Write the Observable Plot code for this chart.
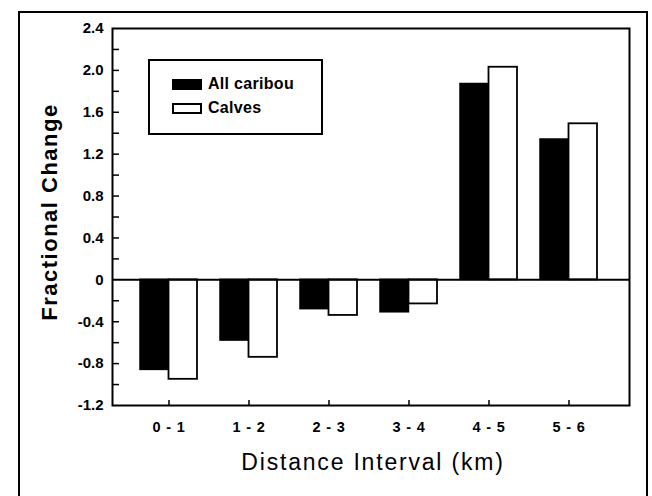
<!DOCTYPE html>
<html>
<head>
<meta charset="utf-8">
<script src="https://cdn.jsdelivr.net/npm/d3@7"></script>
<script src="https://cdn.jsdelivr.net/npm/@observablehq/plot@0.6"></script>
<style>
  html, body { margin: 0; padding: 0; background: #fff; overflow: hidden; }
  #wrap { position: relative; width: 652px; height: 496px; }
  #wrap svg { position: absolute; left: 0; top: 0; display: block; }
  #border { position: absolute; left: 18px; top: 11px; width: 630px; height: 520px;
            border: 2px solid #000; border-bottom: none; box-sizing: border-box; pointer-events: none; }
  #legend { position: absolute; left: 148px; top: 59px; width: 175px; height: 76px;
            border: 2px solid #000; box-sizing: border-box; background: #fff;
            font-family: "Liberation Sans", Arial, Helvetica, sans-serif; font-weight: bold; font-size: 16px; }
  .item { position: absolute; left: 22px; display: flex; align-items: center; height: 16px; }
  .sw { width: 30px; height: 11px; box-sizing: border-box; border: 2px solid #000; margin-right: 6px; }
  .lbl { letter-spacing: 0.3px; }
</style>
</head>
<body>
<div id="wrap"></div>
<script>
// ---- data ----
const categories = ["0 - 1", "1 - 2", "2 - 3", "3 - 4", "4 - 5", "5 - 6"];
const allCaribou = [-0.86, -0.58, -0.28, -0.31, 1.87, 1.34];
const calves     = [-0.95, -0.74, -0.34, -0.23, 2.03, 1.49];
const seriesNames = ["All caribou", "Calves"];
const seriesFills = ["#000", "#fff"];
const yTickValues = [2.4, 2.0, 1.6, 1.2, 0.8, 0.4, 0, -0.4, -0.8, -1.2];
const yTickLabels = ["2.4", "2.0", "1.6", "1.2", "0.8", "0.4", "0", "-0.4", "-0.8", "-1.2"];
const yTickMarks = [2.2, 2.0, 1.8, 1.6, 1.4, 1.2, 1.0, 0.8, 0.6, 0.4, 0.2, -0.2, -0.4, -0.6, -0.8, -1.0];
const xTitle = "Distance Interval (km)";
const yTitle = "Fractional Change";

// ---- layout ----
const W = 652, H = 496, mL = 112, mR = 23, mT = 28, mB = 91;
const plotW = W - mL - mR, plotH = H - mT - mB;
const font = "'Liberation Sans', Arial, Helvetica, sans-serif";

const rowsA = categories.map((c, i) => ({cat: c, v: allCaribou[i]}));
const rowsC = categories.map((c, i) => ({cat: c, v: calves[i]}));

const xScale = {type: "band", domain: categories, paddingInner: 0.2875, paddingOuter: 0.375, align: 0.47};
const bandW = plotW / (categories.length - 0.2875 + 2 * 0.375) * (1 - 0.2875);

const plot = Plot.plot({
  width: W, height: H,
  marginLeft: mL, marginRight: mR, marginTop: mT, marginBottom: mB,
  style: {background: "transparent", fontFamily: font, color: "#000", overflow: "visible"},
  x: xScale,
  y: {domain: [-1.2, 2.4]},
  marks: [
    Plot.barY(rowsA, {x: "cat", y: "v", fill: seriesFills[0], stroke: "#000", strokeWidth: 1.5, insetRight: bandW / 2}),
    Plot.barY(rowsC, {x: "cat", y: "v", fill: seriesFills[1], stroke: "#000", strokeWidth: 1.8, insetLeft: bandW / 2}),
    Plot.ruleY([0], {stroke: "#000", strokeWidth: 2}),
    Plot.tickY(yTickMarks, {y: d => d, stroke: "#000", strokeWidth: 1.5, insetRight: plotW - 7}),
    Plot.tickX(categories, {x: d => d, stroke: "#000", strokeWidth: 1.5, insetTop: plotH - 5}),
    Plot.frame({stroke: "#000", strokeWidth: 2}),
    Plot.axisY(yTickValues, {
      tickSize: 0, tickPadding: 9, label: null,
      tickFormat: d => yTickLabels[yTickValues.indexOf(d)],
      fontSize: 15, fontWeight: "bold"
    }),
    Plot.axisX({tickSize: 0, tickPadding: 16, label: null, fontSize: 14.5, fontWeight: "bold"}),
    Plot.text([yTitle], {text: d => d, frameAnchor: "left", textAnchor: "middle", lineAnchor: "middle",
                         rotate: -90, dx: -63, dy: -5, fontSize: 22, fontWeight: "bold"}),
    Plot.text([xTitle], {text: d => d, frameAnchor: "bottom", textAnchor: "middle", lineAnchor: "middle",
                         dx: 2, dy: 57, fontSize: 23})
  ]
});

document.getElementById("wrap").appendChild(plot);

// letter spacing for the (wide) scanned titles and tick labels
d3.select(plot).selectAll("text").each(function () {
  const t = this.textContent;
  if (t === yTitle) d3.select(this).style("letter-spacing", "1.5px");
  else if (t === xTitle) d3.select(this).style("letter-spacing", "1.8px");
  else if (categories.includes(t)) d3.select(this).style("letter-spacing", "0.8px");
});

// outer figure border
const border = document.createElement("div");
border.id = "border";
document.getElementById("wrap").appendChild(border);

// legend inside the plot area
const legend = document.createElement("div");
legend.id = "legend";
seriesNames.forEach((name, i) => {
  const item = document.createElement("div");
  item.className = "item";
  item.style.top = (i === 0 ? 15 : 39) + "px";
  const sw = document.createElement("div");
  sw.className = "sw";
  sw.style.background = seriesFills[i];
  const lbl = document.createElement("span");
  lbl.className = "lbl";
  lbl.textContent = name;
  item.appendChild(sw);
  item.appendChild(lbl);
  legend.appendChild(item);
});
document.getElementById("wrap").appendChild(legend);
</script>
</body>
</html>
